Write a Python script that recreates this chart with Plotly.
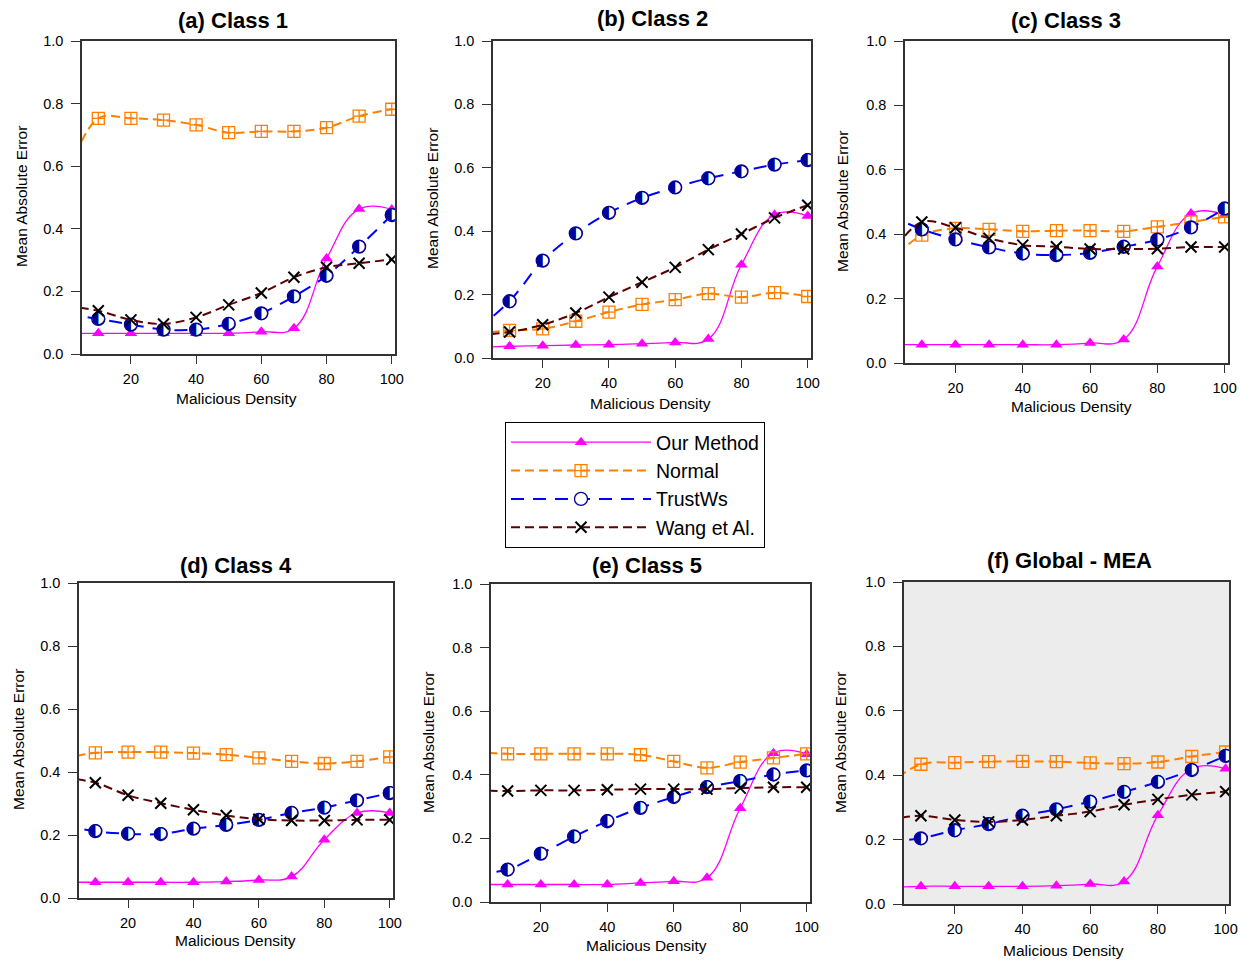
import plotly.graph_objects as go

W, H = 1241, 963

# ---------------- data ----------------
x_vals = [0, 10, 20, 30, 40, 50, 60, 70, 80, 90, 100]
x_ticks = [20, 40, 60, 80, 100]
y_ticks = [0.0, 0.2, 0.4, 0.6, 0.8, 1.0]
series_names = ["Our Method", "Normal", "TrustWs", "Wang et Al."]
panel_titles = ["(a) Class 1", "(b) Class 2", "(c) Class 3",
                "(d) Class 4", "(e) Class 5", "(f) Global - MEA"]

# Class 1
our_c1 = [0.066, 0.066, 0.066, 0.066, 0.066, 0.066, 0.071, 0.082, 0.305, 0.463, 0.462]
normal_c1 = [0.555, 0.753, 0.753, 0.747, 0.732, 0.707, 0.711, 0.711, 0.723, 0.760, 0.782]
trust_c1 = [0.128, 0.112, 0.094, 0.078, 0.078, 0.096, 0.130, 0.184, 0.250, 0.343, 0.444]
wang_c1 = [0.154, 0.138, 0.109, 0.096, 0.117, 0.157, 0.195, 0.245, 0.277, 0.290, 0.302]
# Class 2
our_c2 = [0.033, 0.037, 0.039, 0.041, 0.042, 0.045, 0.049, 0.060, 0.294, 0.452, 0.448]
normal_c2 = [0.077, 0.087, 0.092, 0.116, 0.145, 0.169, 0.184, 0.203, 0.192, 0.206, 0.194]
trust_c2 = [0.089, 0.179, 0.307, 0.393, 0.458, 0.505, 0.538, 0.567, 0.589, 0.610, 0.624]
wang_c2 = [0.072, 0.082, 0.105, 0.142, 0.192, 0.239, 0.286, 0.342, 0.391, 0.442, 0.482]
# Class 3
our_c3 = [0.057, 0.057, 0.057, 0.057, 0.057, 0.057, 0.062, 0.073, 0.300, 0.464, 0.460]
normal_c3 = [0.309, 0.397, 0.418, 0.415, 0.409, 0.411, 0.411, 0.409, 0.423, 0.438, 0.454]
trust_c3 = [0.461, 0.415, 0.384, 0.359, 0.340, 0.335, 0.342, 0.361, 0.383, 0.421, 0.480]
wang_c3 = [0.324, 0.438, 0.420, 0.387, 0.366, 0.361, 0.354, 0.354, 0.355, 0.360, 0.360]
# Class 4
our_c4 = [0.050, 0.050, 0.050, 0.050, 0.050, 0.052, 0.057, 0.068, 0.185, 0.270, 0.270]
normal_c4 = [0.441, 0.461, 0.463, 0.463, 0.460, 0.455, 0.445, 0.434, 0.427, 0.434, 0.448]
trust_c4 = [0.232, 0.212, 0.204, 0.203, 0.220, 0.232, 0.248, 0.270, 0.287, 0.310, 0.333]
wang_c4 = [0.382, 0.366, 0.326, 0.301, 0.280, 0.262, 0.250, 0.246, 0.246, 0.248, 0.248]
# Class 5
our_c5 = [0.055, 0.055, 0.055, 0.055, 0.055, 0.060, 0.065, 0.076, 0.295, 0.468, 0.465]
normal_c5 = [0.472, 0.466, 0.466, 0.466, 0.466, 0.463, 0.442, 0.422, 0.440, 0.453, 0.466]
trust_c5 = [0.090, 0.102, 0.152, 0.206, 0.254, 0.296, 0.330, 0.361, 0.380, 0.401, 0.414]
wang_c5 = [0.351, 0.349, 0.351, 0.351, 0.353, 0.355, 0.355, 0.355, 0.358, 0.361, 0.361]
# Global - MEA
our_gl = [0.050, 0.055, 0.055, 0.055, 0.055, 0.057, 0.062, 0.070, 0.276, 0.420, 0.420]
normal_gl = [0.368, 0.434, 0.439, 0.442, 0.443, 0.442, 0.438, 0.436, 0.441, 0.458, 0.472]
trust_gl = [0.196, 0.204, 0.229, 0.248, 0.274, 0.294, 0.318, 0.348, 0.379, 0.416, 0.460]
wang_gl = [0.260, 0.274, 0.261, 0.255, 0.261, 0.274, 0.287, 0.308, 0.325, 0.339, 0.349]

panels = [
    (our_c1, normal_c1, trust_c1, wang_c1),
    (our_c2, normal_c2, trust_c2, wang_c2),
    (our_c3, normal_c3, trust_c3, wang_c3),
    (our_c4, normal_c4, trust_c4, wang_c4),
    (our_c5, normal_c5, trust_c5, wang_c5),
    (our_gl, normal_gl, trust_gl, wang_gl),
]

# ---------------- layout geometry (pixels) ----------------
# (left, right, top, bottom) of each plot area
boxes = [
    (82, 395, 41, 354),
    (493, 811, 41, 358),
    (905, 1228, 41, 363),
    (79, 393, 583, 898),
    (491, 810, 584, 902),
    (904, 1229, 582, 904),
]
title_pos = [(233, 20), (652, 19), (1066, 20), (236, 565), (647, 565), (1069, 560)]
xt_pos = [(237, 399), (650, 403), (1071, 406), (235, 940), (646, 945), (1063, 950)]
yt_pos = [(21, 197), (432, 199), (842, 202), (18, 740), (428, 743), (840, 743)]

FONT = "Liberation Sans, Arial, sans-serif"
C_MAG = "#ff00ff"
C_ORA = "#ff7f00"
C_BLUE = "#0000ff"
C_NAVY = "#00009c"
C_MAR = "#5c0000"

fig = go.Figure()

for i, (our, normal, trust, wang) in enumerate(panels):
    n = "" if i == 0 else str(i + 1)
    xa, ya = "x" + n, "y" + n
    show = i == 0
    fig.add_trace(go.Scatter(
        x=x_vals, y=our, xaxis=xa, yaxis=ya, name=series_names[0],
        mode="lines+markers", legendgroup="our", showlegend=show,
        line=dict(color=C_MAG, width=1.3, shape="spline", smoothing=1.2),
        marker=dict(symbol="triangle-up", size=11, color=C_MAG)))
    fig.add_trace(go.Scatter(
        x=x_vals, y=normal, xaxis=xa, yaxis=ya, name=series_names[1],
        mode="lines+markers", legendgroup="normal", showlegend=show,
        line=dict(color=C_ORA, width=2, dash="9px,5px", shape="spline", smoothing=1.0),
        marker=dict(symbol="square-cross-open", size=12, color=C_ORA,
                    line=dict(width=1.3, color=C_ORA))))
    fig.add_trace(go.Scatter(
        x=x_vals, y=trust, xaxis=xa, yaxis=ya, name=series_names[2],
        mode="lines+markers", legendgroup="trust", showlegend=show,
        line=dict(color=C_BLUE, width=2, dash="13px,9px", shape="spline", smoothing=1.0),
        marker=dict(symbol="circle", size=13, color="white",
                    line=dict(width=1.3, color=C_NAVY))))
    fig.add_trace(go.Scatter(
        x=x_vals[1:], y=trust[1:], xaxis=xa, yaxis=ya, name=series_names[2],
        mode="text", legendgroup="trust", showlegend=False,
        text=["\u25D0"] * (len(x_vals) - 1), textposition="middle center",
        textfont=dict(family="DejaVu Sans", size=17, color=C_NAVY),
        hoverinfo="skip"))
    fig.add_trace(go.Scatter(
        x=x_vals, y=wang, xaxis=xa, yaxis=ya, name=series_names[3],
        mode="lines+markers", legendgroup="wang", showlegend=show,
        line=dict(color=C_MAR, width=2, dash="9px,5px", shape="spline", smoothing=1.0),
        marker=dict(symbol="x-thin-open", size=11, color="black",
                    line=dict(width=2, color="black"))))

layout = dict(
    width=W, height=H, autosize=False,
    margin=dict(l=0, r=0, t=0, b=0, pad=0, autoexpand=False),
    paper_bgcolor="white", plot_bgcolor="white",
    font=dict(family=FONT, size=14, color="black"),
    showlegend=True,
    legend=dict(x=505 / W, y=1 - 422 / H, xanchor="left", yanchor="top",
                bordercolor="black", borderwidth=1, bgcolor="white",
                font=dict(family=FONT, size=19.5, color="black"),
                itemwidth=140, tracegroupgap=0),
    annotations=[], shapes=[],
)

for i, (l, r, t, b) in enumerate(boxes):
    n = "" if i == 0 else str(i + 1)
    layout["xaxis" + n] = dict(
        domain=[l / W, r / W], anchor="y" + n, range=[5, 101], automargin=False,
        tickvals=x_ticks, ticks="outside", ticklen=8, tickcolor="#333",
        ticklabelstandoff=3,
        showline=True, linecolor="#333", linewidth=1.5, mirror=True,
        showgrid=False, zeroline=False, tickfont=dict(size=14.5))
    layout["yaxis" + n] = dict(
        domain=[1 - b / H, 1 - t / H], anchor="x" + n, range=[0, 1], automargin=False,
        tickvals=y_ticks, tickformat=".1f", ticks="outside", ticklen=9,
        ticklabelstandoff=5,
        tickcolor="#333", showline=True, linecolor="#333", linewidth=1.5,
        mirror=True, showgrid=False, zeroline=False, tickfont=dict(size=14.5))
    tx, ty = title_pos[i]
    layout["annotations"].append(dict(
        text="<b>" + panel_titles[i] + "</b>", x=tx / W, y=1 - ty / H,
        xref="paper", yref="paper", showarrow=False,
        font=dict(size=22, family=FONT), xanchor="center", yanchor="middle"))
    ax_, ay_ = xt_pos[i]
    layout["annotations"].append(dict(
        text="Malicious Density", x=ax_ / W, y=1 - ay_ / H,
        xref="paper", yref="paper", showarrow=False,
        font=dict(size=15.5, family=FONT), xanchor="center", yanchor="middle"))
    bx, by = yt_pos[i]
    layout["annotations"].append(dict(
        text="Mean Absolute Error", x=bx / W, y=1 - by / H, textangle=-90,
        xref="paper", yref="paper", showarrow=False,
        font=dict(size=15.5, family=FONT), xanchor="center", yanchor="middle"))

layout["shapes"].append(dict(
    type="rect", xref="x6 domain", yref="y6 domain", x0=0, x1=1, y0=0, y1=1,
    fillcolor="#ececec", line=dict(width=0), layer="below"))

fig.update_layout(**layout)
fig.write_html("out.html")
